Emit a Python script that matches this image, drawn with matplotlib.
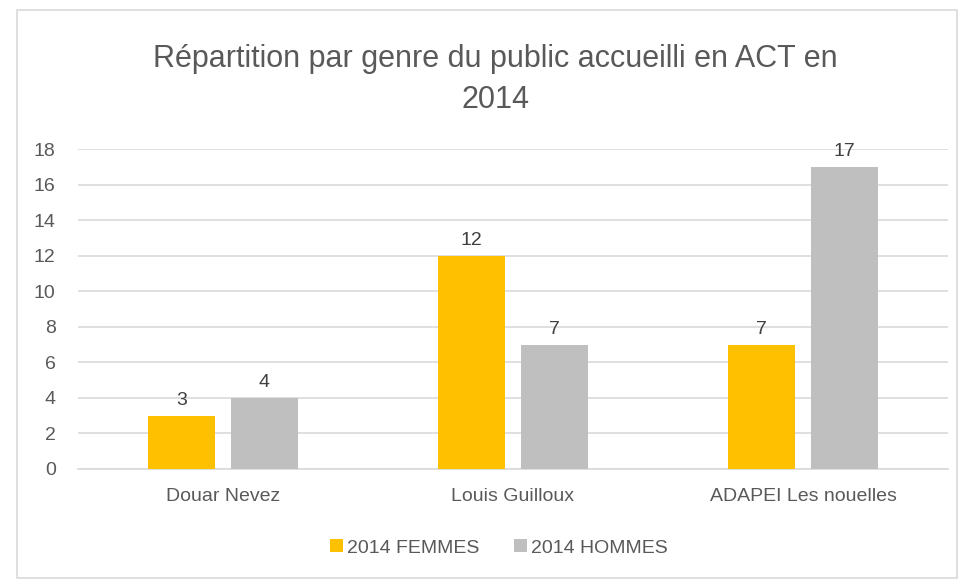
import matplotlib.pyplot as plt
import numpy as np
from matplotlib.patches import Rectangle

plt.rcParams['font.family'] = ['Liberation Sans', 'DejaVu Sans']

categories = ['Douar Nevez', 'Louis Guilloux', 'ADAPEI Les nouelles']
femmes = [3, 12, 7]
hommes = [4, 7, 17]
series_labels = ['2014 FEMMES', '2014 HOMMES']
title = 'Répartition par genre du public accueilli en ACT en\n2014'

TEXT = '#595959'
GRID = '#D9D9D9'


def main():
    fig = plt.figure(figsize=(9.59, 5.8), dpi=100)
    ax = fig.add_axes([0.0813, 0.1914, 0.9072, 0.5517])

    # chart border
    fig.patches.append(Rectangle((17 / 959, 2 / 580), 940 / 959, 568 / 580,
                                 transform=fig.transFigure, fill=False,
                                 edgecolor=GRID, linewidth=1.2))

    x = np.arange(len(categories))
    w = 0.231
    off = 0.143
    b1 = ax.bar(x - off, femmes, w, color='#FFC000', label=series_labels[0], zorder=3)
    b2 = ax.bar(x + off, hommes, w, color='#BFBFBF', label=series_labels[1], zorder=3)
    for bars in (b1, b2):
        ax.bar_label(bars, padding=5, fontsize=14, color='#404040')

    ax.set_xlim(-0.5, len(categories) - 0.5)
    ax.set_ylim(0, 18)
    ax.set_yticks(range(0, 19, 2))
    ax.set_xticks(x)
    ax.set_xticklabels(categories)
    ax.grid(axis='y', color=GRID, linewidth=1.2, zorder=0)
    ax.tick_params(length=0, labelsize=14, colors=TEXT)
    ax.tick_params(axis='y', pad=16)
    ax.tick_params(axis='x', pad=14)
    for s in ['top', 'right', 'left']:
        ax.spines[s].set_visible(False)
    ax.spines['bottom'].set_color(GRID)
    ax.spines['bottom'].set_linewidth(1.2)

    fig.text(0.517, 0.863, title, ha='center', va='center', fontsize=22,
             color=TEXT, linespacing=1.5)

    fig.legend(loc='center', bbox_to_anchor=(0.52, 0.055), ncol=2, frameon=False,
               fontsize=14, labelcolor=TEXT, handlelength=0.65, handleheight=0.65,
               handletextpad=0.2, columnspacing=1.8)

    fig.savefig('out.png', dpi=100)


if __name__ == '__main__':
    main()
